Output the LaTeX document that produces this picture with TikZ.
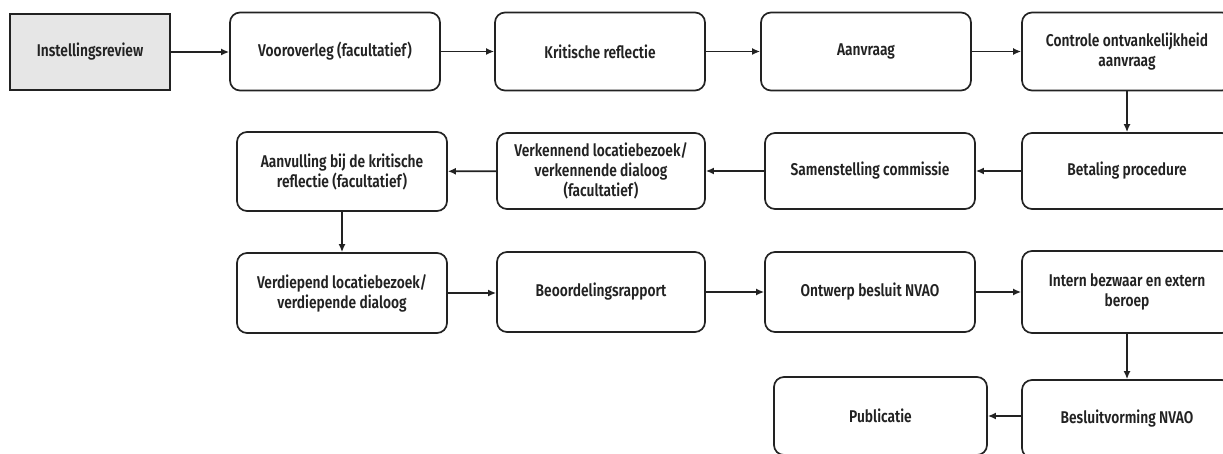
\documentclass[tikz,border=0pt]{standalone}
\usepackage{fontspec}
\setmainfont{Fira Sans SemiBold}[FakeStretch=0.81]
\usetikzlibrary{arrows.meta}
\definecolor{ink}{HTML}{222222}
\definecolor{startfill}{HTML}{E6E6E6}
\begin{document}
\begin{tikzpicture}[x=1pt,y=-1pt,
  stage/.style={draw=ink, text=ink, line width=1.7pt, rounded corners=10pt,
    minimum width=210pt, minimum height=78pt, align=center, inner sep=0pt,
    fill=white, font=\fontsize{17}{20}\selectfont},
  start/.style={stage, rounded corners=0pt, fill=startfill,
    minimum width=160pt, minimum height=76pt},
  flow/.style={draw=ink, line width=1.6pt, -{Latex[length=8pt,width=7pt]}}]
\useasboundingbox (0,0) rectangle (1223,454);
\clip (0,0) rectangle (1223,454);

% row 1
\node[start] (inst) at (90,52) {Instellingsreview};
\node[stage] (voor) at (335,51.5) {Vooroverleg (facultatief)};
\node[stage] (krit) at (600,51.5) {Kritische reflectie};
\node[stage] (aanv) at (866,51.5) {Aanvraag};
\node[stage] (contr) at (1127,51.5) {Controle ontvankelijkheid\\aanvraag};

% row 2
\node[stage, minimum height=79pt] (aanvul) at (342,171.5) {Aanvulling bij de kritische\\reflectie (facultatief)};
\node[stage, minimum width=208pt, minimum height=76pt] (verk) at (601,171) {Verkennend locatiebezoek/\\verkennende dialoog\\(facultatief)};
\node[stage, minimum height=76pt] (samen) at (870,171) {Samenstelling commissie};
\node[stage, minimum height=76pt] (betal) at (1127,171) {Betaling procedure};

% row 3
\node[stage, minimum height=80pt] (verd) at (342,293) {Verdiepend locatiebezoek/\\verdiepende dialoog};
\node[stage, minimum width=208pt, minimum height=80pt] (beoord) at (601,292) {Beoordelingsrapport};
\node[stage, minimum height=80pt] (ontw) at (870,292) {Ontwerp besluit NVAO};
\node[stage, minimum height=82pt] (intern) at (1127,292) {Intern bezwaar en extern\\beroep};

% row 4
\node[stage, minimum width=213pt] (publ) at (880.5,416) {Publicatie};
\node[stage] (besl) at (1127,419) {Besluitvorming NVAO};

% connectors
\draw[flow] (inst.east) -- (inst.east -| voor.west);
\draw[flow] (voor) -- (krit);
\draw[flow] (krit) -- (aanv);
\draw[flow] (aanv) -- (contr);
\draw[flow] (contr) -- (betal);
\draw[flow] (betal) -- (samen);
\draw[flow] (samen) -- (verk);
\draw[flow] (verk) -- (aanvul);
\draw[flow] (aanvul) -- (verd);
\draw[flow] (verd.east) -- (verd.east -| beoord.west);
\draw[flow] (beoord) -- (ontw);
\draw[flow] (ontw) -- (intern);
\draw[flow] (intern) -- (besl);
\draw[flow] ([yshift=3pt]besl.west) -- ([yshift=3pt]besl.west -| publ.east);
\end{tikzpicture}
\end{document}
